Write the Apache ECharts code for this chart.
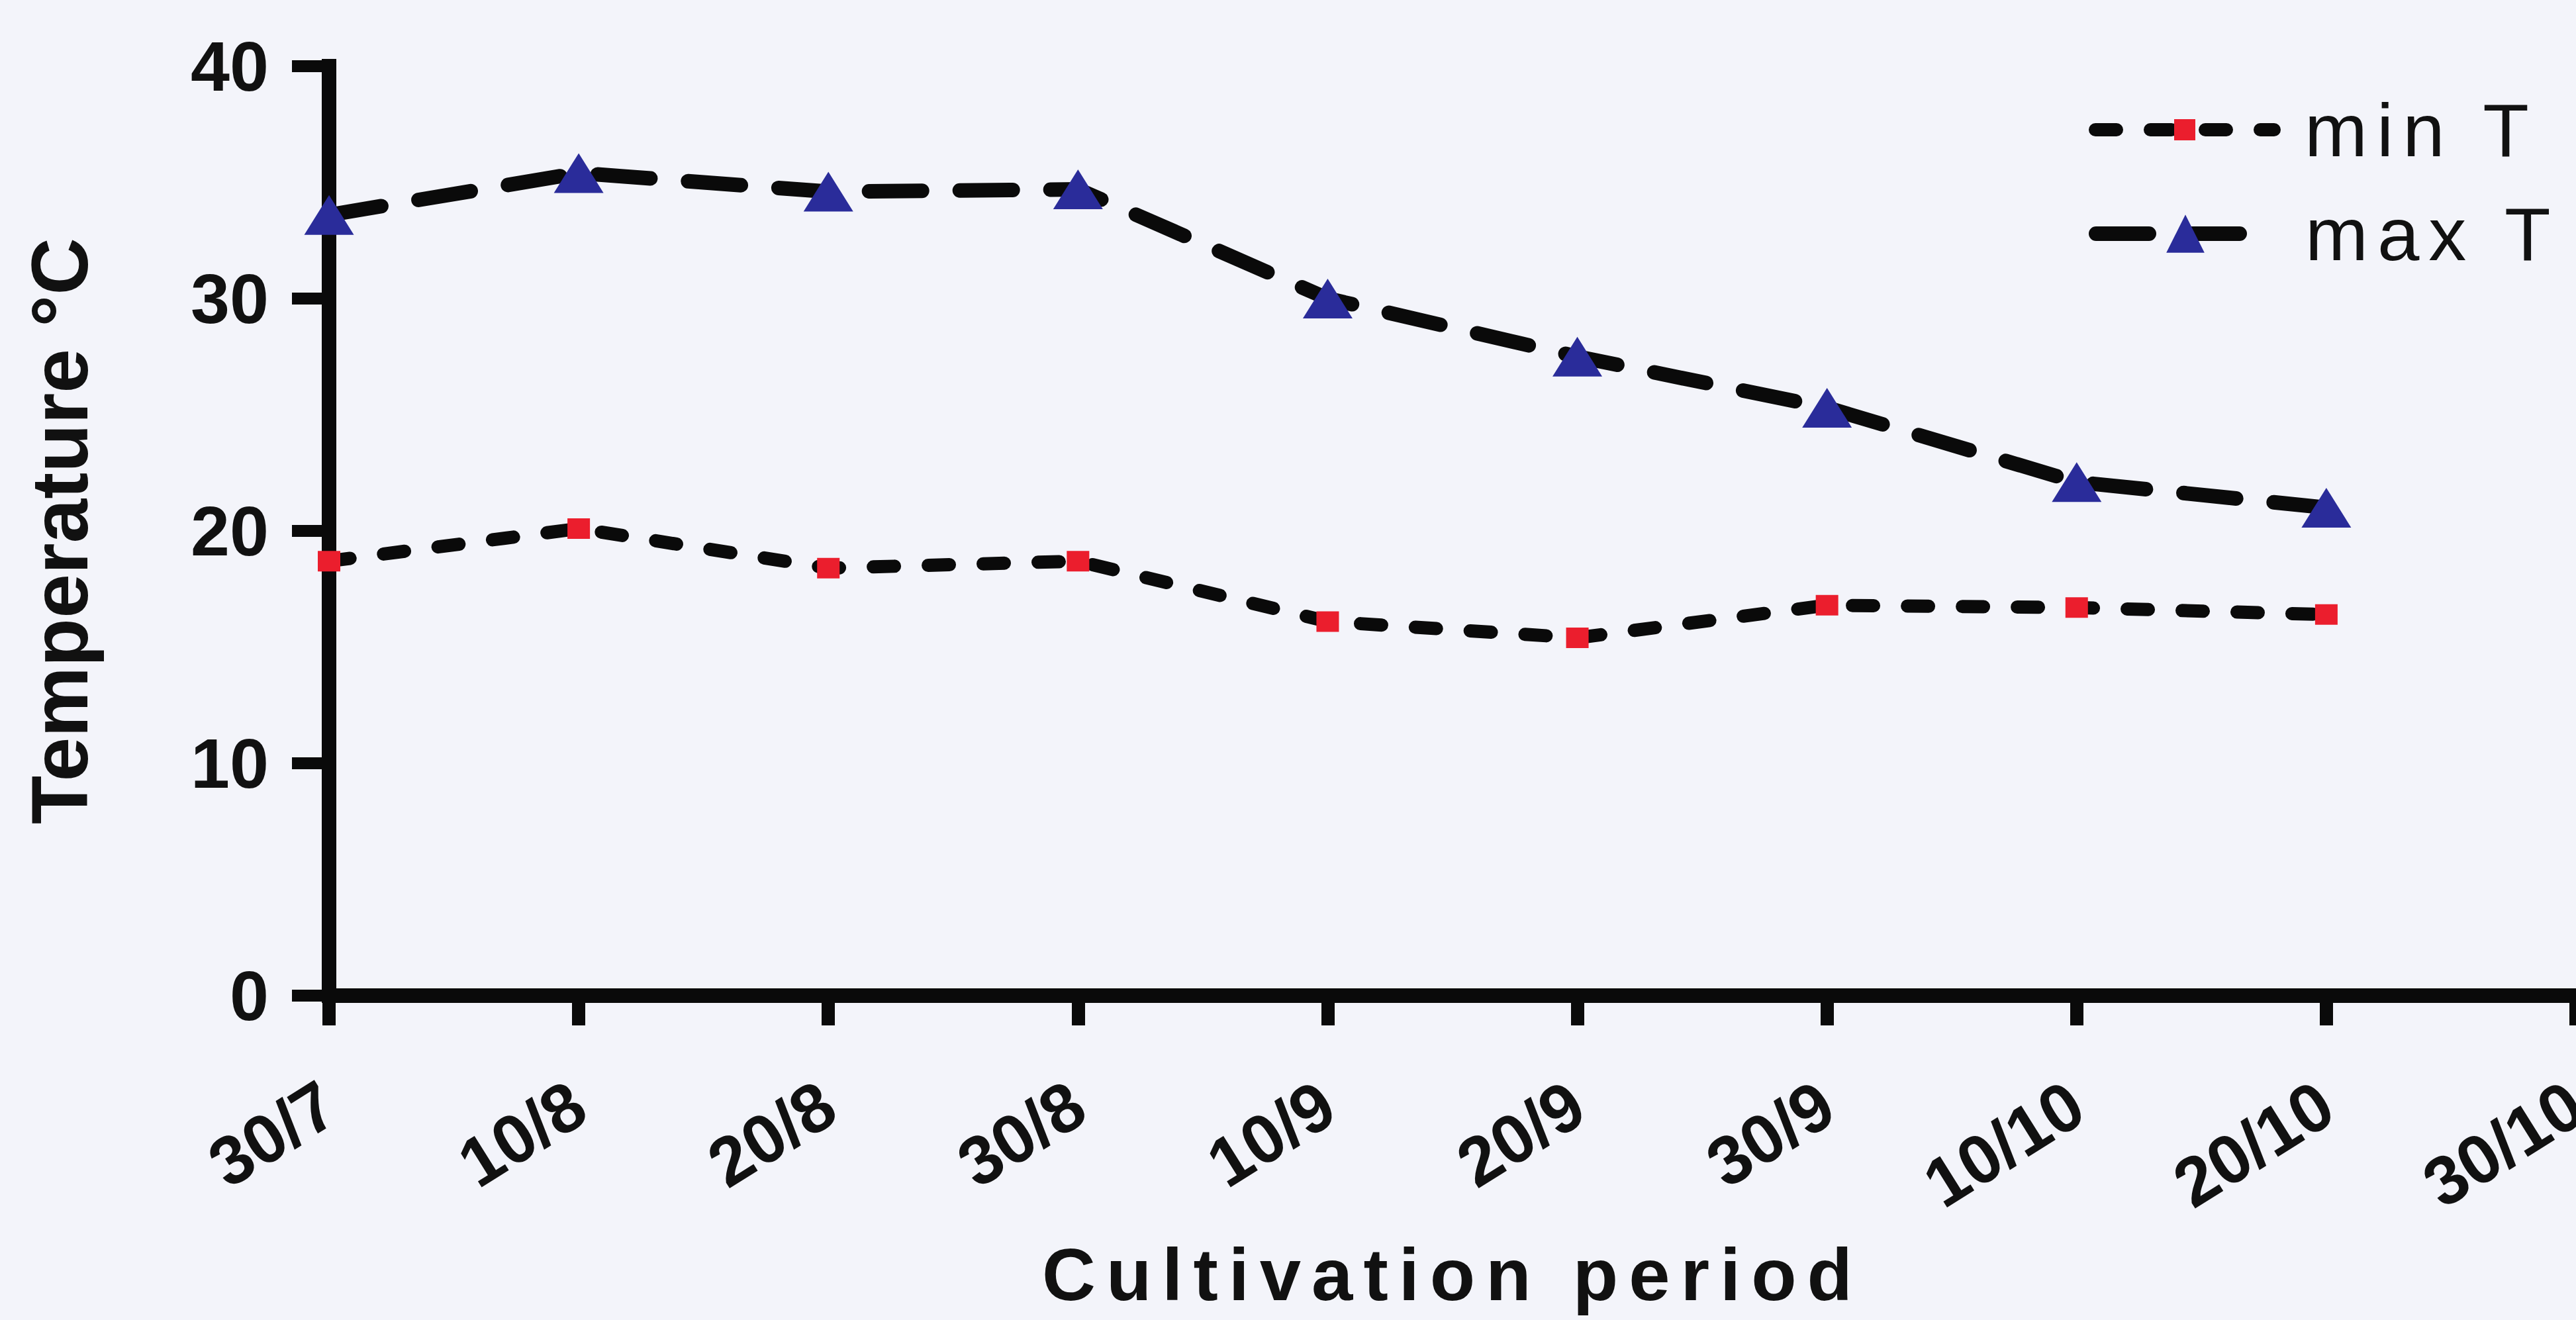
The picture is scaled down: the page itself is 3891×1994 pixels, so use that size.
<!DOCTYPE html>
<html>
<head>
<meta charset="utf-8">
<title>Temperature during the cultivation period</title>
<script src="https://cdn.jsdelivr.net/npm/echarts@6/dist/echarts.min.js"></script>
<style>
  html, body { margin: 0; padding: 0; background: #f3f4fa; }
  #chart { width: 3891px; height: 1994px; }
</style>
</head>
<body>
<div id="chart"></div>
<script>
// Sampling dates (day/month) along the cultivation period
const categories = ['30/7', '10/8', '20/8', '30/8', '10/9', '20/9', '30/9', '10/10', '20/10', '30/10'];

// Daily minimum and maximum air temperature (°C) at each sampling date
const minT = [18.7, 20.1, 18.4, 18.7, 16.1, 15.4, 16.8, 16.7, 16.4];
const maxT = [33.6, 35.4, 34.6, 34.7, 30.0, 27.5, 25.3, 22.1, 21.0];

// Temperature axis range
const yMin = 0;
const yMax = 40;
const yStep = 10;

const seriesNames = ['min T', 'max T'];
const xTitle = 'Cultivation period';
const yTitle = 'Temperature °C';

const FONT = '"Liberation Sans", Arial, Helvetica, sans-serif';
const INK = '#111111';
const LINE_INK = '#0a0a0a';

// Dash patterns shared by the plotted lines and their legend keys
const minLine = { color: LINE_INK, width: 20, type: [32, 51], cap: 'round', join: 'round' };
const maxLine = { color: LINE_INK, width: 22, type: [80, 57], cap: 'round', join: 'round' };

const chart = echarts.init(document.getElementById('chart'), null, { renderer: 'svg' });

const option = {
  backgroundColor: '#f3f4fa',
  animation: false,
  textStyle: { fontFamily: FONT, color: INK },
  grid: { left: 497, right: 0, top: 100, bottom: 490, outerBoundsMode: 'none' },
  legend: [
    {
      data: [seriesNames[0]],
      orient: 'vertical',
      left: 3150,
      top: 134,
      itemWidth: 270,
      itemHeight: 40,
      selectedMode: false,
      lineStyle: minLine,
      textStyle: { fontFamily: FONT, fontSize: 114, color: INK, lineHeight: 40, padding: [0, 0, 0, 41] }
    },
    {
      data: [seriesNames[1]],
      orient: 'vertical',
      left: 3150,
      top: 291,
      itemWidth: 270,
      itemHeight: 72,
      selectedMode: false,
      lineStyle: maxLine,
      textStyle: { fontFamily: FONT, fontSize: 114, color: INK, lineHeight: 72, padding: [0, 0, 0, 41] }
    }
  ],
  xAxis: {
    type: 'category',
    data: categories,
    boundaryGap: false,
    name: xTitle,
    nameLocation: 'middle',
    nameGap: 365,
    nameTextStyle: { fontFamily: FONT, fontSize: 112, fontWeight: 'bold', color: INK, lineHeight: 112 },
    axisLine: { onZero: true, lineStyle: { color: LINE_INK, width: 22, cap: 'square' } },
    axisTick: { show: true, interval: 0, alignWithLabel: true, length: 45, lineStyle: { color: LINE_INK, width: 20 } },
    axisLabel: {
      interval: 0,
      rotate: 32,
      margin: 94,
      fontFamily: FONT,
      fontSize: 104,
      fontWeight: 'bold',
      color: INK,
      align: 'right',
      verticalAlign: 'top',
      padding: [0, 32, 0, 0],
      hideOverlap: false
    },
    splitLine: { show: false }
  },
  yAxis: {
    type: 'value',
    min: yMin,
    max: yMax,
    interval: yStep,
    name: yTitle,
    nameLocation: 'middle',
    nameGap: 347,
    nameTextStyle: { fontFamily: FONT, fontSize: 120, fontWeight: 'bold', color: INK, lineHeight: 120 },
    axisLine: { show: true, lineStyle: { color: LINE_INK, width: 22, cap: 'square' } },
    axisTick: { show: true, length: 56, lineStyle: { color: LINE_INK, width: 18 } },
    axisLabel: { margin: 91, fontFamily: FONT, fontSize: 106, fontWeight: 'bold', color: INK },
    splitLine: { show: false }
  },
  series: [
    {
      name: seriesNames[0],
      type: 'line',
      data: minT,
      symbol: 'rect',
      symbolSize: [34, 31],
      itemStyle: { color: '#eb1e2d' },
      lineStyle: minLine,
      z: 3
    },
    {
      name: seriesNames[1],
      type: 'line',
      data: maxT,
      symbol: 'triangle',
      symbolSize: [75, 60],
      itemStyle: { color: '#2a2c9a' },
      lineStyle: maxLine,
      z: 4
    }
  ]
};

chart.setOption(option);

// Prism-style tracking on the axis title and legend entries
function trackText() {
  const nodes = document.querySelectorAll('#chart text');
  nodes.forEach(function (t) {
    const s = t.textContent;
    if (s === xTitle) {
      t.setAttribute('letter-spacing', '16');
    } else if (seriesNames.indexOf(s) >= 0) {
      t.setAttribute('letter-spacing', '14');
    }
  });
}
trackText();
chart.on('finished', trackText);
</script>
</body>
</html>
